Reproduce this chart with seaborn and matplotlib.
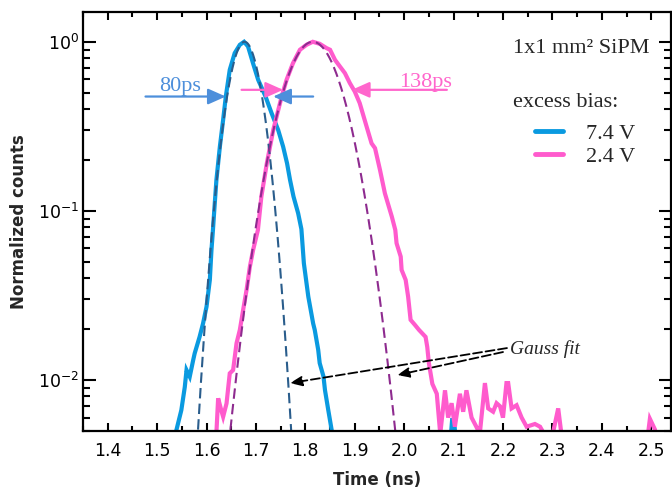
import numpy as np
import pandas as pd
import matplotlib
matplotlib.use("Agg")
import matplotlib.pyplot as plt
import seaborn as sns
from matplotlib.lines import Line2D
from matplotlib.ticker import MultipleLocator, LogLocator, NullFormatter, LogFormatterSciNotation

# ---------------- data ----------------
blue_t = [1.530, 1.539, 1.549, 1.556, 1.5595, 1.566, 1.573, 1.576, 1.586, 1.593, 1.600,
          1.6067, 1.610, 1.613, 1.6148, 1.620, 1.627, 1.6336, 1.639, 1.647, 1.657, 1.6674,
          1.676, 1.684, 1.694, 1.7045, 1.7195, 1.7316, 1.745, 1.755, 1.763, 1.769, 1.776,
          1.7854, 1.792, 1.797, 1.8024, 1.806, 1.8158, 1.819, 1.826, 1.829, 1.8367, 1.8397,
          1.8464, 1.8536, 1.860, 2.092, 2.097, 2.101, 2.106]
blue_counts = [0.0040, 0.00506, 0.00664, 0.0091, 0.01146, 0.01047, 0.01313, 0.01438, 0.01803,
               0.02164, 0.02716, 0.0391, 0.0588, 0.0772, 0.0925, 0.1525, 0.240, 0.3455, 0.474,
               0.683, 0.857, 0.96, 1.0, 0.938, 0.748, 0.596, 0.474, 0.379, 0.301, 0.240, 0.191,
               0.1525, 0.1217, 0.0969, 0.0780, 0.049, 0.0373, 0.0311, 0.0216, 0.0198, 0.0151,
               0.0126, 0.0105, 0.00873, 0.00664, 0.0050, 0.0038, 0.0038, 0.0058, 0.0058, 0.0038]

pink_t = [1.612, 1.620, 1.6235, 1.630, 1.6336, 1.6405, 1.647, 1.6538, 1.6607, 1.6674, 1.674,
          1.681, 1.6877, 1.6943, 1.704, 1.711, 1.722, 1.735, 1.752, 1.762, 1.775, 1.789,
          1.8024, 1.815, 1.829, 1.843, 1.850, 1.860, 1.870, 1.880, 1.890, 1.900, 1.910,
          1.924, 1.934, 1.941, 1.951, 1.961, 1.975, 1.982, 1.9846, 1.993, 1.9948, 2.003,
          2.008, 2.013, 2.0217, 2.030, 2.0433, 2.0467, 2.050, 2.057, 2.066, 2.073, 2.0826,
          2.089, 2.096, 2.1026, 2.1128, 2.1194, 2.126, 2.1364, 2.146, 2.153, 2.1634, 2.170,
          2.180, 2.187, 2.194, 2.200, 2.207, 2.2105, 2.2174, 2.2275, 2.2377, 2.2478, 2.2646,
          2.275, 2.285, 2.300, 2.3117, 2.3186, 2.325, 2.490, 2.4973, 2.5075, 2.512]
pink_counts = [0.0040, 0.0049, 0.0078, 0.0066, 0.00607, 0.00728, 0.01096, 0.01146, 0.0165,
               0.0198, 0.0259, 0.0341, 0.0468, 0.0588, 0.0772, 0.1217, 0.191, 0.301, 0.474,
               0.596, 0.748, 0.897, 0.96, 1.0, 0.973, 0.917, 0.897, 0.782, 0.714, 0.653, 0.570,
               0.508, 0.434, 0.315, 0.251, 0.235, 0.175, 0.127, 0.0925, 0.0772, 0.0644, 0.0537,
               0.0448, 0.0391, 0.0311, 0.0227, 0.0212, 0.0198, 0.018, 0.0157, 0.0126, 0.0095,
               0.0083, 0.0048, 0.0087, 0.0060, 0.0073, 0.0053, 0.0083, 0.0065, 0.0087, 0.0060,
               0.0053, 0.0048, 0.0096, 0.0068, 0.0065, 0.0073, 0.0070, 0.0060, 0.0096, 0.0096,
               0.0068, 0.0071, 0.0060, 0.0053, 0.0055, 0.0053, 0.0047, 0.0047, 0.0068, 0.0047,
               0.0040, 0.0040, 0.0059, 0.0051, 0.0040]

bias_labels = ["7.4 V", "2.4 V"]
# Gaussian fit parameters (mean, sigma) in ns, and fit ranges
fit_mu = [1.677, 1.815]
fit_sigma = [0.029, 0.0513]
fit_range = [(1.57, 1.79), (1.63, 2.0)]
fwhm_labels = ["80ps", "138ps"]

x_ticks = [1.4, 1.5, 1.6, 1.7, 1.8, 1.9, 2.0, 2.1, 2.2, 2.3, 2.4, 2.5]

# ---------------- style ----------------
sns.set_theme(style="ticks")
plt.rcParams['font.family'] = ['DejaVu Sans']
plt.rcParams['mathtext.fontset'] = 'dejavusans'

col_blue = "#0A9AE0"
col_pink = "#FF5BCD"
col_blue_fit = "#2A5D8C"
col_pink_fit = "#8E2B8F"
col_blue_arrow = "#4D8FDB"
col_pink_arrow = "#FF66CC"

fig = plt.figure(figsize=(6.72, 4.91), dpi=100)
ax = fig.add_axes([83 / 672, 60 / 491, 588 / 672, 419 / 491])

df = pd.concat([
    pd.DataFrame({"t": blue_t, "counts": blue_counts, "bias": bias_labels[0]}),
    pd.DataFrame({"t": pink_t, "counts": pink_counts, "bias": bias_labels[1]}),
], ignore_index=True)

sns.lineplot(data=df, x="t", y="counts", hue="bias", palette=[col_blue, col_pink],
             hue_order=bias_labels, sort=False, estimator=None, lw=3.0, ax=ax,
             legend=False, solid_joinstyle="miter")

# Gaussian fits
for mu, sg, (a, b), c in zip(fit_mu, fit_sigma, fit_range, [col_blue_fit, col_pink_fit]):
    tt = np.linspace(a, b, 300)
    fit_df = pd.DataFrame({"t": tt, "counts": np.exp(-0.5 * ((tt - mu) / sg) ** 2)})
    sns.lineplot(data=fit_df, x="t", y="counts", color=c, lw=1.5, ax=ax,
                 legend=False, dashes=False, linestyle=(0, (5, 2.5)))

ax.set_yscale("log")
ax.set_xlim(1.35, 2.54)
ax.set_ylim(0.005, 1.5)

# ticks
ax.set_xticks(x_ticks)
ax.set_xticklabels([f"{v:.1f}" for v in x_ticks])
ax.xaxis.set_minor_locator(MultipleLocator(0.05))
ax.yaxis.set_major_locator(LogLocator(base=10, numticks=10))
ax.yaxis.set_minor_locator(LogLocator(base=10, subs=np.arange(2, 10), numticks=20))
ax.yaxis.set_major_formatter(LogFormatterSciNotation())
ax.yaxis.set_minor_formatter(NullFormatter())
ax.tick_params(axis="both", which="both", direction="in", top=True, right=True,
               width=1.5, colors="black", labelsize=12.5)
ax.tick_params(axis="x", which="major", length=6, pad=8)
ax.tick_params(axis="x", which="minor", length=3.5)
ax.tick_params(axis="y", which="major", length=9, pad=3)
ax.tick_params(axis="y", which="minor", length=5)
for s in ax.spines.values():
    s.set_linewidth(1.6)
    s.set_color("black")

ax.set_xlabel("Time (ns)", fontsize=12, fontweight="bold")
ax.set_ylabel("Normalized counts", fontsize=12, fontweight="bold")
ax.xaxis.set_label_coords(0.5, -0.095)
ax.yaxis.set_label_coords(-0.094, 0.5)

serif = ['Liberation Serif', 'DejaVu Serif']

# legend
handles = [Line2D([], [], color=col_blue, lw=3.5), Line2D([], [], color=col_pink, lw=3.5)]
leg = ax.legend(handles, bias_labels, loc="upper left", bbox_to_anchor=(0.7687, 0.735),
                frameon=False, prop={'family': serif, 'size': 16}, handlelength=1.25,
                handletextpad=1.05, labelspacing=0.11, borderpad=0, borderaxespad=0)

ax.text(0.964, 0.914, "1x1 mm² SiPM", transform=ax.transAxes, ha="right", va="center",
        fontsize=16, family=serif)
ax.text(0.731, 0.785, "excess bias:", transform=ax.transAxes, ha="left", va="center",
        fontsize=16, family=serif)

# FWHM arrows
arr = dict(arrowstyle="-|>,head_length=0.9,head_width=0.4", lw=1.6, shrinkA=0, shrinkB=0,
           mutation_scale=12)
ax.annotate("", xy=(1.639, 0.4746), xytext=(1.4765, 0.4746),
            arrowprops=dict(color=col_blue_arrow, **arr))
ax.annotate("", xy=(1.7348, 0.4746), xytext=(1.8158, 0.4746),
            arrowprops=dict(color=col_blue_arrow, **arr))
ax.annotate("", xy=(1.755, 0.520), xytext=(1.6709, 0.520),
            arrowprops=dict(color=col_pink_arrow, **arr))
ax.annotate("", xy=(1.894, 0.520), xytext=(2.0864, 0.520),
            arrowprops=dict(color=col_pink_arrow, **arr))
ax.text(1.546, 0.509, fwhm_labels[0], ha="center", va="baseline", fontsize=16,
        family=serif, color=col_blue_arrow)
ax.text(2.0442, 0.544, fwhm_labels[1], ha="center", va="baseline", fontsize=16,
        family=serif, color=col_pink_arrow)

# Gauss fit label and arrows
ax.text(2.215, 0.0152, "Gauss fit", ha="left", va="center", fontsize=14,
        family=serif, style="italic")
garr = dict(arrowstyle="-|>,head_length=0.6,head_width=0.25", lw=1.3, color="black",
            linestyle=(0, (5, 2)), shrinkA=0, shrinkB=0, mutation_scale=12)
ax.annotate("", xy=(1.769, 0.0096), xytext=(2.208, 0.01546), arrowprops=garr)
ax.annotate("", xy=(1.986, 0.0107), xytext=(2.200, 0.01465), arrowprops=garr)

fig.savefig("out.png", dpi=100)
